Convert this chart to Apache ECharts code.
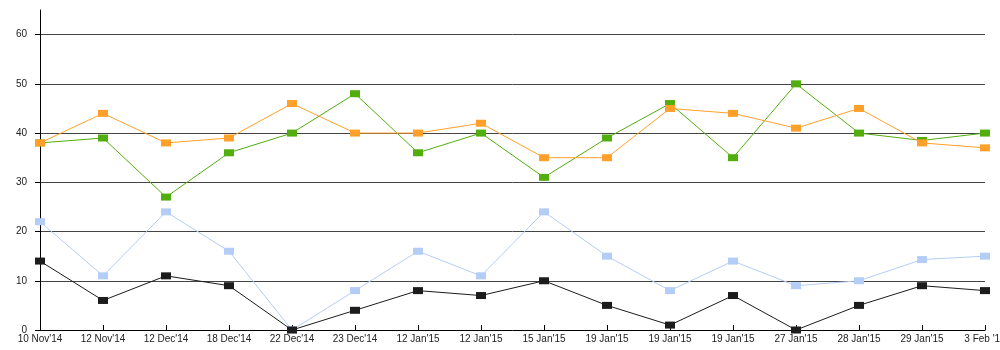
<!DOCTYPE html>
<html>
<head>
<meta charset="utf-8">
<script src="https://cdn.jsdelivr.net/npm/echarts@6/dist/echarts.min.js"></script>
<style>
  html, body { margin: 0; padding: 0; background: #fff; }
  #chart { width: 1000px; height: 350px; }
</style>
</head>
<body>
<div id="chart"></div>
<script>
// Sample dates (some dates repeat, each entry is its own point)
var categories = ["10 Nov'14", "12 Nov'14", "12 Dec'14", "18 Dec'14", "22 Dec'14", "23 Dec'14",
  "12 Jan'15", "12 Jan'15", "15 Jan'15", "19 Jan'15", "19 Jan'15", "19 Jan'15",
  "27 Jan'15", "28 Jan'15", "29 Jan'15", "3 Feb '15"];

var blueValues   = [22, 11, 24, 16, 0, 8, 16, 11, 24, 15, 8, 14, 9, 10, 14.3, 15];
var greenValues  = [38, 39, 27, 36, 40, 48, 36, 40, 31, 39, 46, 35, 50, 40, 38.5, 40];
var orangeValues = [38, 44, 38, 39, 46, 40, 40, 42, 35, 35, 45, 44, 41, 45, 38, 37];
var blackValues  = [14, 6, 11, 9, 0, 4, 8, 7, 10, 5, 1, 7, 0, 5, 9, 8];

var yTicks = [0, 10, 20, 30, 40, 50, 60];

var font = 'Liberation Sans, Arial, sans-serif';

function lineSeries(name, data, color) {
  return {
    name: name,
    type: 'line',
    data: data,
    symbol: 'rect',
    symbolSize: [10, 7],
    showAllSymbol: true,
    lineStyle: { color: color, width: 1 },
    itemStyle: { color: color },
    emphasis: { disabled: true },
    animation: false
  };
}

var chart = echarts.init(document.getElementById('chart'), null, { renderer: 'canvas' });
chart.setOption({
  animation: false,
  grid: { left: 40, right: 15, top: 10, bottom: 20, containLabel: false, outerBoundsMode: 'none' },
  xAxis: {
    type: 'category',
    data: categories,
    boundaryGap: false,
    axisLine: { lineStyle: { color: '#000', width: 1 } },
    axisTick: { show: true, inside: true, length: 5, alignWithLabel: true, interval: 0, lineStyle: { color: '#000' } },
    axisLabel: { interval: 0, margin: 4, color: '#222', fontSize: 10, fontFamily: font },
    splitLine: { show: false }
  },
  yAxis: {
    type: 'value',
    min: 0,
    max: 65,
    interval: 10,
    axisLine: { show: true, lineStyle: { color: '#000', width: 1 } },
    axisTick: { show: true, length: 5, customValues: yTicks, lineStyle: { color: '#000' } },
    axisLabel: { margin: 13, color: '#222', fontSize: 10, fontFamily: font, customValues: yTicks },
    splitLine: { show: true, showMinLine: false, showMaxLine: true, lineStyle: { color: '#444', width: 1 } }
  },
  series: [
    lineSeries('Blue', blueValues, '#B3CDF7'),
    lineSeries('Green', greenValues, '#52AE0F'),
    lineSeries('Orange', orangeValues, '#FFA02A'),
    lineSeries('Black', blackValues, '#1C1C1C')
  ]
});
</script>
</body>
</html>
